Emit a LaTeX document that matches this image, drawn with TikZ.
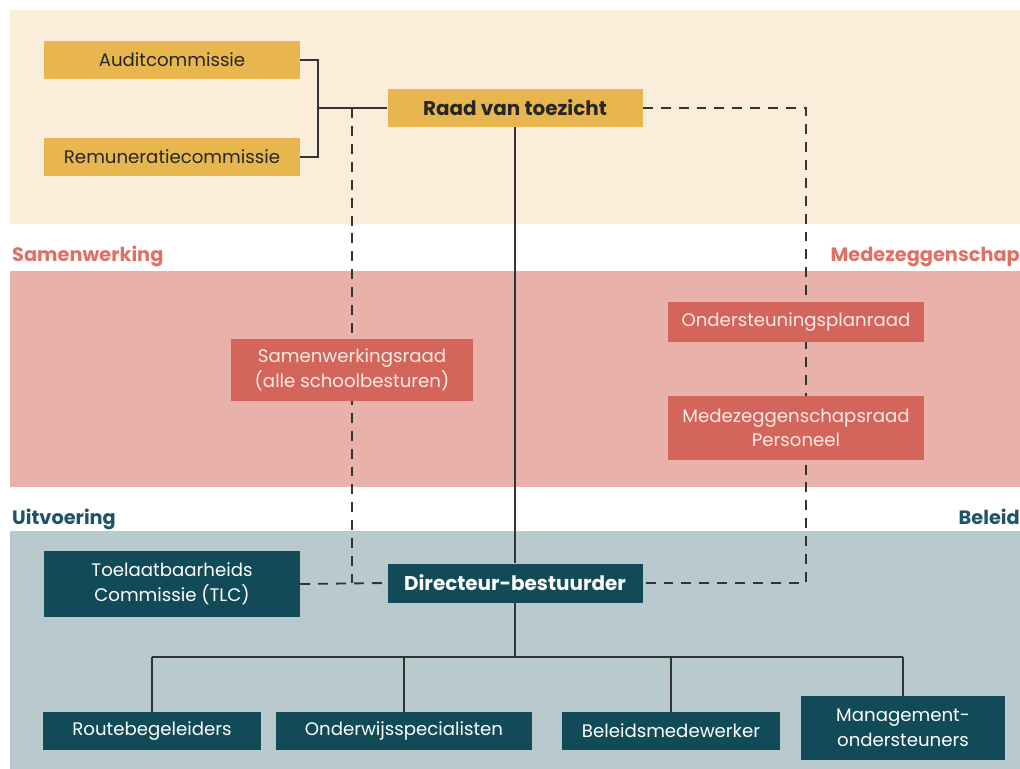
\documentclass[tikz,border=0pt]{standalone}
\usepackage{fontspec}
\setmainfont{Poppins}
\usetikzlibrary{backgrounds}

\definecolor{bandtop}{HTML}{FAEEDB}
\definecolor{bandmid}{HTML}{E8B1AA}
\definecolor{bandlow}{HTML}{B9CACE}
\definecolor{gold}{HTML}{E8B64F}
\definecolor{coral}{HTML}{D4655A}
\definecolor{coraltext}{HTML}{FCEAE4}
\definecolor{coralhead}{HTML}{E07066}
\definecolor{teal}{HTML}{124B58}
\definecolor{tealhead}{HTML}{1F5466}
\definecolor{linegray}{HTML}{333333}

\tikzset{
  box/.style={inner sep=0pt, align=center, font=\fontsize{15.5}{21}\selectfont},
  toezicht/.style={box, fill=gold, text=black!85},
  samenwerk/.style={box, fill=coral, text=coraltext},
  uitvoer/.style={box, fill=teal, text=white},
  bandlabel/.style={inner sep=0pt, font=\fontsize{16.5}{18}\selectfont\bfseries},
  link/.style={draw=linegray, line width=1.6pt},
  dashlink/.style={draw=linegray, line width=1.6pt, dash pattern=on 8.5pt off 6.8pt}
}

\begin{document}
\begin{tikzpicture}[x=0.03cm, y=-0.03cm]
\useasboundingbox (0,0) rectangle (1020,769);

\node[toezicht, minimum width=7.68cm, minimum height=1.14cm] (audit) at (172,60) {Auditcommissie};
\node[toezicht, minimum width=7.68cm, minimum height=1.14cm] (remun) at (172,157) {Remuneratiecommissie};
\node[toezicht, minimum width=7.65cm, minimum height=1.14cm, font=\fontsize{17}{21}\selectfont\bfseries] (raad) at (515,108) {Raad van toezicht};

\node[bandlabel, text=coralhead, anchor=base west] (lblsam) at (12,262) {Samenwerking};
\node[bandlabel, text=coralhead, anchor=base east] (lblmed) at (1020,262) {Medezeggenschap};
\node[samenwerk, minimum width=7.23cm, minimum height=1.83cm] (swr) at (352,370) {Samenwerkingsraad\\(alle schoolbesturen)};
\node[samenwerk, minimum width=7.68cm, minimum height=1.17cm] (opr) at (796,322) {Ondersteuningsplanraad};
\node[samenwerk, minimum width=7.68cm, minimum height=1.92cm] (mzr) at (796,428) {Medezeggenschapsraad\\Personeel};

\node[bandlabel, text=tealhead, anchor=base west] (lbluit) at (12,524) {Uitvoering};
\node[bandlabel, text=tealhead, anchor=base east] (lblbel) at (1020,524) {Beleid};
\node[uitvoer, minimum width=7.68cm, minimum height=1.98cm] (tlc) at (172,584) {Toelaatbaarheids\\Commissie (TLC)};
\node[uitvoer, minimum width=7.65cm, minimum height=1.17cm, font=\fontsize{17}{21}\selectfont\bfseries] (dir) at (515,583) {Directeur-bestuurder};
\node[uitvoer, minimum width=6.51cm, minimum height=1.14cm] (route) at (152,731) {Routebegeleiders};
\node[uitvoer, minimum width=7.68cm, minimum height=1.14cm] (onderwijs) at (404,731) {Onderwijsspecialisten};
\node[uitvoer, minimum width=6.54cm, minimum height=1.14cm] (beleid) at (671,731) {Beleidsmedewerker};
\node[uitvoer, minimum width=6.12cm, minimum height=1.92cm] (mgmt) at (903,728) {Management-\\ondersteuners};

\coordinate (joint) at (318,108);
\coordinate (swtop) at (352,108);
\coordinate (swbot) at (352,583);
\coordinate (mzhoek) at (806,583);
\coordinate (split) at (515,657);

\begin{pgfonlayer}{background}
\fill[bandtop] (10,10) rectangle (1020,224);
\fill[bandmid] (10,271) rectangle (1020,487);
\fill[bandlow] (10,531) rectangle (1020,769);

\draw[link] (audit.east) -| (joint) |- (remun.east);
\draw[link] (joint) -- (raad.west);
\draw[link] (raad) -- (dir);
\draw[link] (dir.south) -- (split);
\draw[link] (split -| route.north) -- (split -| mgmt.north);
\foreach \n in {route,onderwijs,beleid,mgmt}
  \draw[link] (split -| \n.north) -- (\n.north);

\draw[dashlink] (swtop) -- (swbot);
\draw[dashlink] (tlc.east) -- (dir.west);
\draw[dashlink] (raad.east) -| (mzhoek) -- (dir.east);
\end{pgfonlayer}
\end{tikzpicture}
\end{document}
